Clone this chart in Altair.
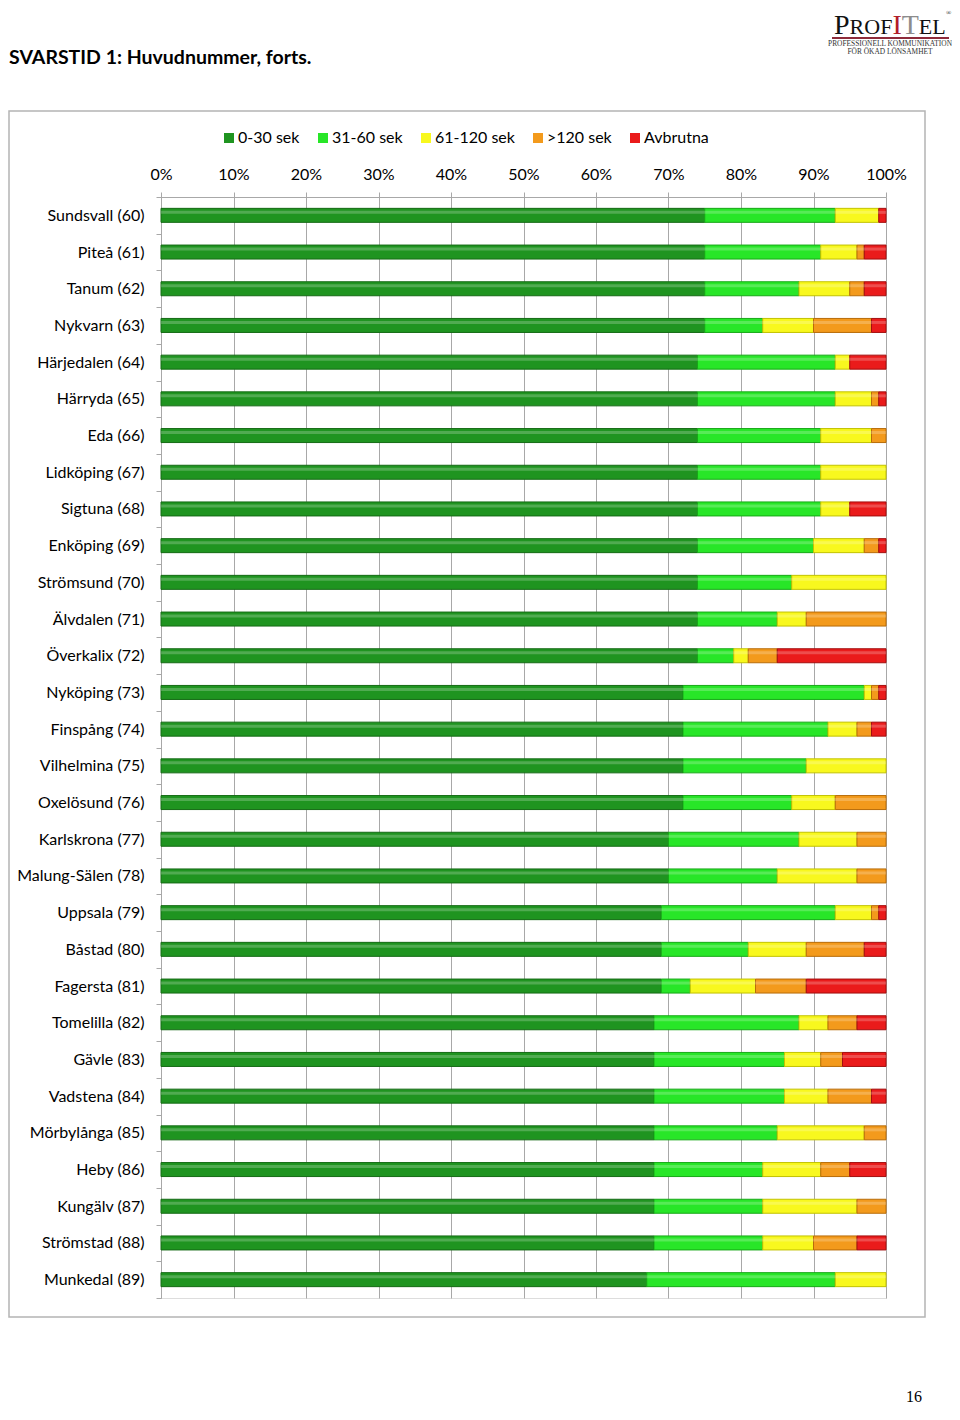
import altair as alt
import pandas as pd

categories = ["Sundsvall (60)", "Piteå (61)", "Tanum (62)", "Nykvarn (63)", "Härjedalen (64)",
              "Härryda (65)", "Eda (66)", "Lidköping (67)", "Sigtuna (68)", "Enköping (69)",
              "Strömsund (70)", "Älvdalen (71)", "Överkalix (72)", "Nyköping (73)", "Finspång (74)",
              "Vilhelmina (75)", "Oxelösund (76)", "Karlskrona  (77)", "Malung-Sälen (78)", "Uppsala (79)",
              "Båstad (80)", "Fagersta  (81)", "Tomelilla (82)", "Gävle (83)", "Vadstena  (84)",
              "Mörbylånga  (85)", "Heby (86)", "Kungälv (87)", "Strömstad (88)", "Munkedal (89)"]

series = ["0-30 sek", "31-60 sek", "61-120 sek", ">120 sek", "Avbrutna"]

s_0_30 = [75, 75, 75, 75, 74, 74, 74, 74, 74, 74, 74, 74, 74, 72, 72, 72, 72, 70, 70, 69, 69, 69, 68, 68, 68, 68, 68, 68, 68, 67]
s_31_60 = [18, 16, 13, 8, 19, 19, 17, 17, 17, 16, 13, 11, 5, 25, 20, 17, 15, 18, 15, 24, 12, 4, 20, 18, 18, 17, 15, 15, 15, 26]
s_61_120 = [6, 5, 7, 7, 2, 5, 7, 9, 4, 7, 13, 4, 2, 1, 4, 11, 6, 8, 11, 5, 8, 9, 4, 5, 6, 12, 8, 13, 7, 7]
s_120 = [0, 1, 2, 8, 0, 1, 2, 0, 0, 2, 0, 11, 4, 1, 2, 0, 7, 4, 4, 1, 8, 7, 4, 3, 6, 3, 4, 4, 6, 0]
s_avbrutna = [1, 3, 3, 2, 5, 1, 0, 0, 5, 1, 0, 0, 15, 1, 2, 0, 0, 0, 0, 1, 3, 11, 4, 6, 2, 0, 5, 0, 4, 0]

x_ticks = [0, 0.1, 0.2, 0.3, 0.4, 0.5, 0.6, 0.7, 0.8, 0.9, 1.0]

fill_colors = ["#1f9420", "#28e628", "#f8f81e", "#f39a1c", "#ea1b1b"]
stroke_colors = ["#146a14", "#17a817", "#c2c200", "#b86c08", "#a30e0e"]

rows = []
for i, cat in enumerate(categories):
    for k, vals in enumerate([s_0_30, s_31_60, s_61_120, s_120, s_avbrutna]):
        if vals[i] > 0:
            rows.append({"category": cat, "series": series[k], "order": k, "value": vals[i]})
df = pd.DataFrame(rows)

FONT = "Lato"

x_enc = alt.X("value:Q", stack="normalize",
              scale=alt.Scale(domain=[0, 1], nice=False),
              axis=alt.Axis(orient="top", values=x_ticks, format=".0%", title=None,
                            grid=True, gridColor="#a8a8a8", gridWidth=1, labelFlush=False,
                            domainColor="#a8a8a8", tickColor="#a8a8a8", tickSize=5,
                            labelPadding=10, labelFontSize=16, labelFont=FONT, labelColor="#000000"))
y_enc = alt.Y("category:N", sort=categories,
              scale=alt.Scale(paddingInner=0, paddingOuter=0),
              axis=alt.Axis(title=None, domainColor="#a8a8a8", tickColor="#a8a8a8", tickSize=5,
                            tickBand="extent", labelPadding=12, labelFontSize=16, labelFont=FONT,
                            labelColor="#000000", grid=False))

bars = alt.Chart(df).mark_bar(size=14, strokeWidth=1).encode(
    x=x_enc,
    y=y_enc,
    color=alt.Color("series:N", scale=alt.Scale(domain=series, range=fill_colors),
                    legend=alt.Legend(title=None, orient="none", legendX=60, legendY=-67,
                                      direction="horizontal", symbolType="square", symbolSize=100,
                                      symbolStrokeWidth=0, labelFontSize=16, labelFont=FONT,
                                      labelColor="#000000", labelOffset=1, columnPadding=15)),
    stroke=alt.Stroke("series:N", scale=alt.Scale(domain=series, range=stroke_colors), legend=None),
    order=alt.Order("order:Q"),
)

highlight = alt.Chart(df).mark_bar(size=3, yOffset=-3, color="#ffffff", opacity=0.22).encode(
    x=alt.X("value:Q", stack="normalize"),
    y=alt.Y("category:N", sort=categories),
    order=alt.Order("order:Q"),
)

border = alt.Chart(pd.DataFrame({"t": [""]})).mark_rect(fillOpacity=0, stroke="#b4b4b4", strokeWidth=1.5).encode(
    x=alt.value(-152), x2=alt.value(764), y=alt.value(-86), y2=alt.value(1120))


def txt(s, x, y, size, **kw):
    params = dict(align="left", baseline="alphabetic", fontSize=size)
    params.update(kw)
    return alt.Chart(pd.DataFrame({"t": [s]})).mark_text(**params).encode(
        x=alt.value(x), y=alt.value(y), text="t:N")


title = txt("SVARSTID 1: Huvudnummer, forts.", -152, -133, 19.5, font=FONT, fontWeight="bold", color="#000000")
SERIF = "Liberation Serif"
logo = [
    txt("P", 673, -163, 28, font=SERIF, color="#111111"),
    txt("ROF", 688.6, -163, 22, font=SERIF, color="#111111"),
    txt("I", 731.4, -163, 28, font=SERIF, color="#b01e2a"),
    txt("T", 740.7, -163, 28, font=SERIF, color="#8c8c8c"),
    txt("EL", 757.8, -163, 22, font=SERIF, color="#111111"),
    txt("®", 785, -182, 7, font=SERIF, color="#111111"),
    txt("PROFESSIONELL KOMMUNIKATION", 729, -151, 7.4, font=SERIF, color="#333333", align="center"),
    txt("FÖR ÖKAD LÖNSAMHET", 729, -143, 7.4, font=SERIF, color="#333333", align="center"),
]
underline = alt.Chart(pd.DataFrame({"t": [""]})).mark_rule(color="#8e2a3a", strokeWidth=2).encode(
    x=alt.value(671), x2=alt.value(788), y=alt.value(-159))
page_no = txt("16", 745, 1205, 16, font=SERIF, color="#000000")

chart = alt.layer(border, bars, highlight, title, underline, page_no, *logo).properties(
    width=725, height=1101,
    autosize=alt.AutoSizeParams(type="none"),
    padding={"left": 153, "top": 189, "right": 66, "bottom": 106},
).configure_view(strokeWidth=0).configure(background="#ffffff")

chart.save("out.html", embed_options={"renderer": "svg", "actions": False})
